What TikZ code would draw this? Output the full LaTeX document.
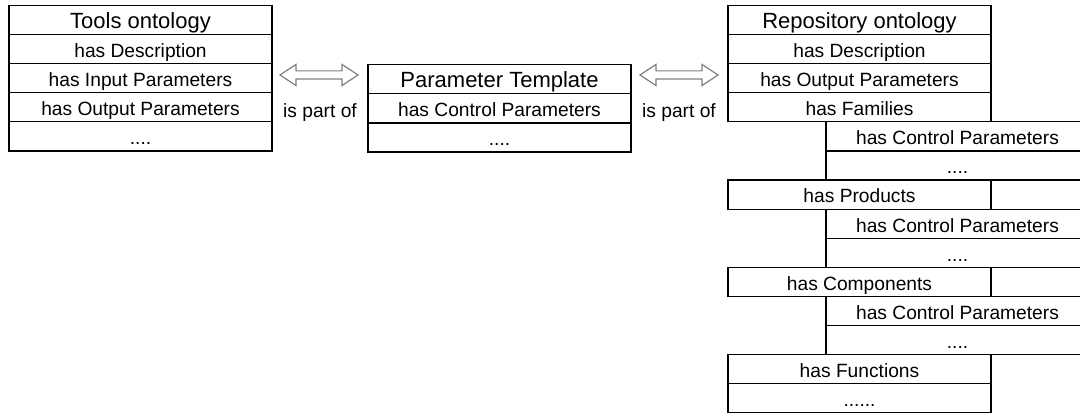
\documentclass[tikz,border=0pt]{standalone}
\usepackage{fontspec}
\setmainfont{Liberation Sans}
\usetikzlibrary{shapes.arrows}

\tikzset{
	cell/.style = {draw, rectangle, anchor = north west, outer sep = 0pt, inner sep = 0pt,
		minimum width = \cw*0.5pt, minimum height = \rh*0.5pt,
		text height = 8.3pt, text depth = 0pt, font = \fontsize{9.6}{11}\selectfont},
	head/.style = {cell, font = \fontsize{11}{13}\selectfont},
	partof/.style = {double arrow, draw = gray, fill = white, inner xsep = 0pt, inner ysep = 1.75pt,
		minimum height = 39pt, double arrow head extend = 3.25pt, double arrow tip angle = 67},
	rel/.style = {anchor = base, font = \fontsize{9.6}{11}\selectfont}
}

\begin{document}
\begin{tikzpicture}[x = 0.5pt, y = -0.5pt, line width = 0.6pt]
			\def\cw{263};
			\def\rh{29.1};
			\def\yTOP{5.5};

			\path [use as bounding box, clip] (0,0) rectangle (1080,415);

			% tools ontology
			\begin{scope}
				\node [head] (tools) at (9,\yTOP) {Tools ontology};
				\node [cell] (toolsDesc) at (9,\yTOP+\rh) {has Description};
				\node [cell] (toolsIn) at (9,\yTOP+2*\rh) {has Input Parameters};
				\node [cell] (toolsOut) at (9,\yTOP+3*\rh) {has Output Parameters};
				\node [cell] (toolsMore) at (9,\yTOP+4*\rh) {....};
			\end{scope}

			% parameter template
			\begin{scope}
				\node [head] (param) at (368,64.8) {Parameter Template};
				\node [cell] (paramCtrl) at (368,64.8+\rh) {has Control Parameters};
				\node [cell] (paramMore) at (368,64.8+2*\rh) {....};
			\end{scope}

			% repository ontology
			\begin{scope}
				\node [head] (repo) at (728,\yTOP) {Repository ontology};
				\node [cell] (repoDesc) at (728,\yTOP+\rh) {has Description};
				\node [cell] (repoOut) at (728,\yTOP+2*\rh) {has Output Parameters};
				\node [cell] (repoFam) at (728,\yTOP+3*\rh) {has Families};
				\node [cell] (famCtrl) at (826,\yTOP+4*\rh) {has Control Parameters};
				\node [cell] (famMore) at (826,\yTOP+5*\rh) {....};
				\node [cell] (repoProd) at (728,\yTOP+6*\rh) {has Products};
				\node [cell, minimum width = 49pt] (prodRest) at (repoProd.north east) {};
				\node [cell] (prodCtrl) at (826,\yTOP+7*\rh) {has Control Parameters};
				\node [cell] (prodMore) at (826,\yTOP+8*\rh) {....};
				\node [cell] (repoComp) at (728,\yTOP+9*\rh) {has Components};
				\node [cell, minimum width = 49pt] (compRest) at (repoComp.north east) {};
				\node [cell] (compCtrl) at (826,\yTOP+10*\rh) {has Control Parameters};
				\node [cell] (compMore) at (826,\yTOP+11*\rh) {....};
				\node [cell] (repoFunc) at (728,\yTOP+12*\rh) {has Functions};
				\node [cell] (funcMore) at (728,\yTOP+13*\rh) {......};
			\end{scope}

			% is part of
			\begin{scope}
				\node [partof] (partTools) at (319,75) {};
				\node [rel] (partToolsText) at (320,118) {is part of};
				\node [partof] (partRepo) at (679,75) {};
				\node [rel] (partRepoText) at (679,118) {is part of};
			\end{scope}
		\end{tikzpicture}
\end{document}
